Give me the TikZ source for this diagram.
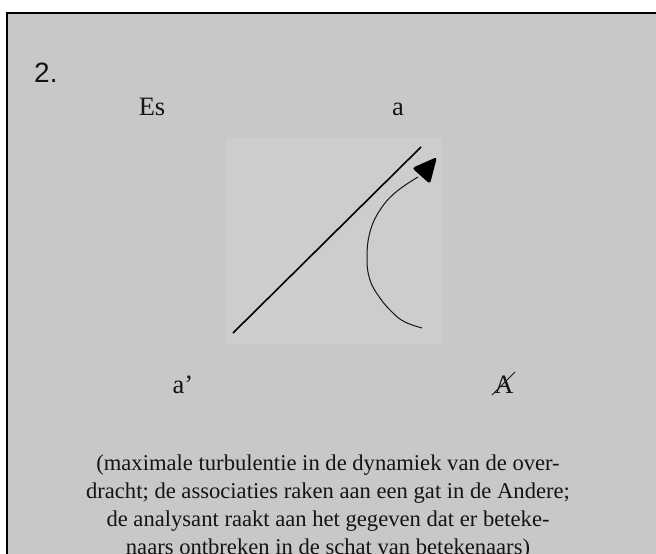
\documentclass[tikz,border=0pt]{standalone}
\usepackage{fontspec}
\setmainfont{Liberation Serif}
\newfontfamily\numfont{Liberation Sans}
\definecolor{bggray}{RGB}{200,200,200}
\definecolor{sqgray}{RGB}{205,205,205}
\definecolor{ink}{RGB}{20,20,20}
\begin{document}
\begin{tikzpicture}[x=1pt,y=-1pt,
  lbl/.style={inner sep=0pt,anchor=base,text=ink,font=\fontsize{26.5}{30}\selectfont},
  captxt/.style={inner sep=0pt,align=center,text=ink,font=\fontsize{22.6}{28}\selectfont},
  thinline/.style={draw=ink,line width=0.9pt},
  diag/.style={draw=black,line width=1.6pt}]
\useasboundingbox (0,0) rectangle (656,554);
\fill[white] (0,0) rectangle (656,554);
\filldraw[fill=bggray,draw=black,line width=2pt] (7,13) rectangle (680,580);
\fill[sqgray] (226,138) rectangle (442,344);
\node[lbl,anchor=base west,font=\numfont\fontsize{28}{30}\selectfont] (num) at (34,82) {2.};
\node[lbl] (es) at (152,115) {Es};
\node[lbl] (a) at (398,115) {a};
\node[lbl] (ap) at (183,393) {a’};
\node[lbl] (abar) at (504,393) {A};
\draw[thinline] (492,395) -- (515,372);
\coordinate (d1) at (233,333);
\coordinate (d2) at (421,147);
\draw[diag] (d1) -- (d2);
\coordinate (c0) at (422,328);
\coordinate (ctip) at (418,177);
\draw[thinline,line width=1pt] plot[smooth,tension=0.7] coordinates {(c0) (405,322) (393,313) (380,298) (370,280) (367,258) (370,232) (380,210) (396,192) (ctip)};
\fill[black,rounded corners=3pt] (412,168) -- (437,157) -- (430,184) -- cycle;
\node[captxt] (caption) at (328,507) {(maximale turbulentie in de dynamiek van de over-\\dracht; de associaties raken aan een gat in de Andere;\\de analysant raakt aan het gegeven dat er beteke-\\naars ontbreken in de schat van betekenaars)};
\end{tikzpicture}
\end{document}
